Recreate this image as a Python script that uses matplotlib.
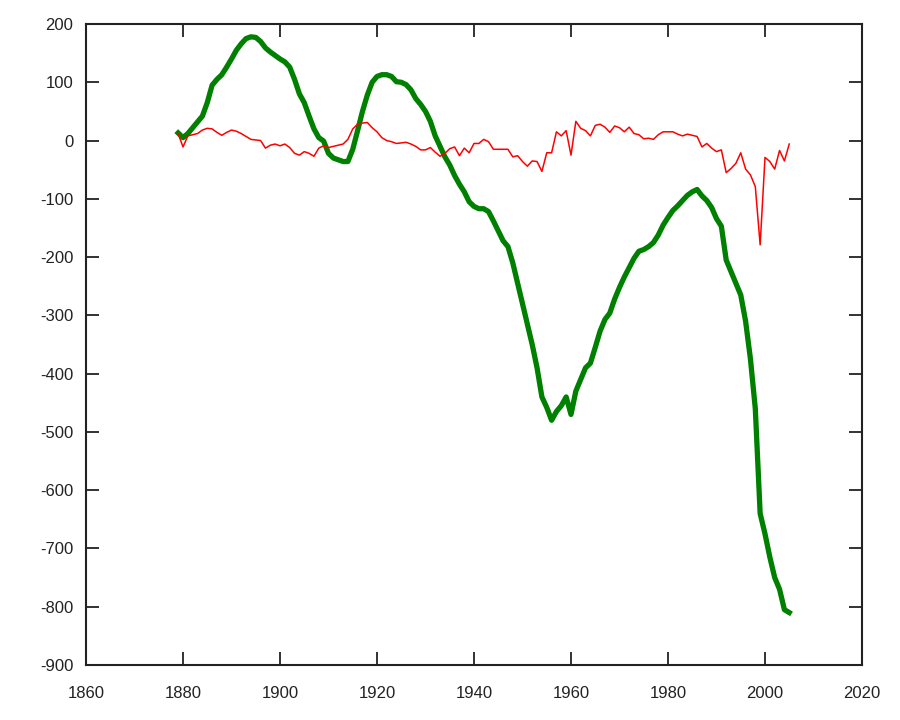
import matplotlib
matplotlib.use("Agg")
import matplotlib.pyplot as plt
import numpy as np

plt.rcParams['font.family'] = ['Liberation Sans', 'DejaVu Sans']

years = list(range(1879, 2006))

cumulative = [
    13, 5, 12, 22, 32, 42, 65, 95, 105, 113,
    126, 140, 155, 166, 175, 178, 177, 170, 159, 152,
    146, 140, 135, 126, 105, 80, 65, 42, 20, 5,
    -1, -22, -30, -33, -36, -36, -15, 17, 50, 78,
    100, 110, 113, 113, 110, 101, 100, 96, 87, 72,
    62, 50, 33, 8, -10, -28, -42, -60, -75, -88,
    -105, -113, -117, -117, -122, -138, -155, -172, -182, -210,
    -245, -280, -315, -350, -390, -440, -458, -480, -465, -455,
    -440, -470, -430, -410, -390, -382, -355, -327, -307, -296,
    -272, -252, -234, -218, -202, -190, -187, -182, -175, -162,
    -145, -132, -120, -112, -103, -94, -88, -84, -95, -103,
    -115, -134, -147, -205, -225, -245, -265, -310, -375, -460,
    -640, -675, -715, -750, -770, -805, -810,
]

annual = [
    12, -11, 8, 10, 12, 18, 21, 20, 14, 9,
    14, 18, 16, 12, 7, 2, 1, 0, -13, -8,
    -6, -9, -6, -12, -22, -25, -19, -22, -27, -13,
    -9, -12, -10, -8, -6, 2, 20, 28, 30, 31,
    22, 15, 5, 0, -2, -5, -4, -3, -6, -10,
    -16, -16, -12, -20, -27, -22, -14, -11, -26, -13,
    -21, -5, -5, 2, -2, -15, -15, -15, -15, -28,
    -26, -36, -44, -35, -36, -53, -21, -21, 15, 8,
    17, -25, 33, 21, 17, 8, 26, 28, 23, 14,
    25, 22, 15, 23, 12, 10, 3, 4, 2, 10,
    15, 15, 15, 11, 8, 11, 9, 7, -11, -5,
    -13, -19, -16, -55, -48, -39, -21, -49, -59, -79,
    -179, -29, -36, -49, -17, -35, -6,
]

xticks = [1860, 1880, 1900, 1920, 1940, 1960, 1980, 2000, 2020]
yticks = [200, 100, 0, -100, -200, -300, -400, -500, -600, -700, -800, -900]

fig = plt.figure(figsize=(9, 7.2), dpi=100)
ax = fig.add_axes([86/900, 1 - 665/720, (862-86)/900, (665-24)/720])

ax.plot(years, cumulative, color='#008000', lw=3.8, solid_joinstyle='round', zorder=2)
ax.plot(years, annual, color='#ff0000', lw=1.1, zorder=3)

ax.set_xlim(1860, 2020)
ax.set_ylim(-900, 200)
ax.set_xticks(xticks)
ax.set_yticks(yticks)
ax.set_yticklabels([str(v) for v in yticks])

ax.tick_params(axis='both', direction='in', length=9.5, width=1.3, color='#222222',
               labelsize=12, labelcolor='#222222', top=True, right=True)
ax.tick_params(axis='y', pad=9)
ax.tick_params(axis='x', pad=15)
for s in ax.spines.values():
    s.set_linewidth(1.5)
    s.set_color('#222222')

fig.savefig('out.png', dpi=100, facecolor='white')
